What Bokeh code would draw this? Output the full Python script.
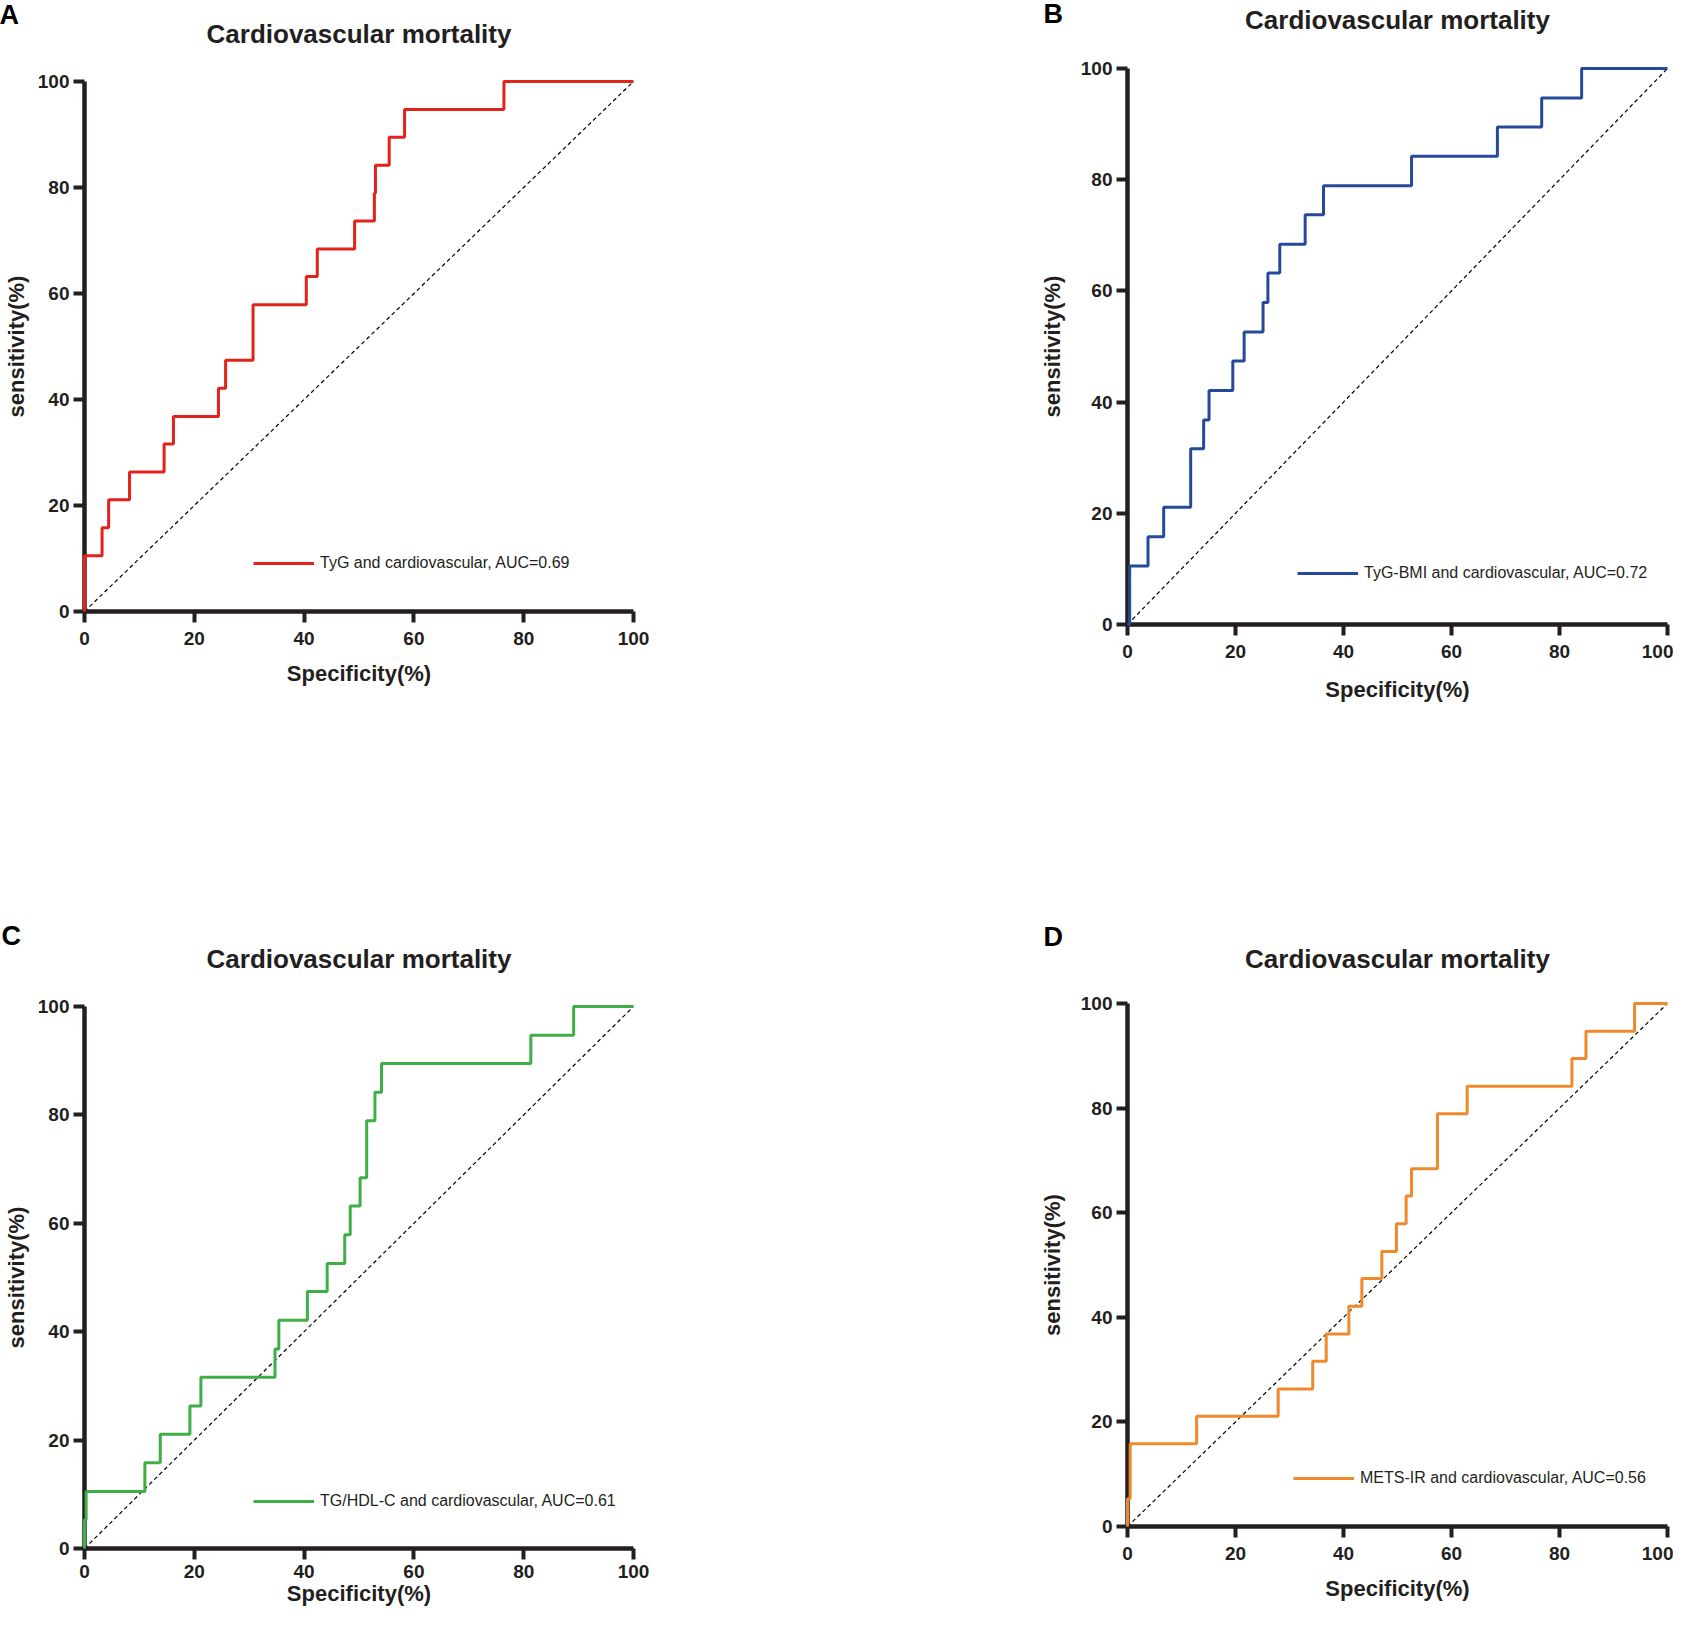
from bokeh.plotting import figure
from bokeh.models import Range1d, Legend, LegendItem, FixedTicker, Title
from bokeh.layouts import column, row
from bokeh.embed import file_html
from bokeh.resources import INLINE

# ---------------- data (ROC corner points: specificity %, sensitivity %) ----------------
ticks = [0, 20, 40, 60, 80, 100]
title_text = "Cardiovascular mortality"
x_label = "Specificity(%)"
y_label = "sensitivity(%)"

a_spec = [0, 0, 3.2, 4.4, 8.2, 14.5, 16.2, 24.4, 25.7, 30.7, 40.4, 42.4, 49.2, 52.8, 53.0, 55.5, 58.3, 76.4, 100]
a_sens = [0, 10.5, 15.8, 21.1, 26.3, 31.6, 36.8, 42.1, 47.4, 57.9, 63.2, 68.4, 73.7, 78.9, 84.2, 89.5, 94.7, 100, 100]
a_name = "TyG and cardiovascular, AUC=0.69"

b_spec = [0, 0.4, 3.8, 6.7, 11.7, 14.1, 15.1, 19.5, 21.6, 25.1, 26.0, 28.2, 32.9, 36.3, 52.6, 68.5, 76.7, 84.1, 100]
b_sens = [0, 10.5, 15.8, 21.1, 31.6, 36.8, 42.1, 47.4, 52.6, 57.9, 63.2, 68.4, 73.7, 78.9, 84.2, 89.5, 94.7, 100, 100]
b_name = "TyG-BMI and cardiovascular, AUC=0.72"

c_spec = [0, 0, 0.3, 11.0, 13.8, 19.2, 21.2, 34.7, 35.4, 40.6, 44.2, 47.4, 48.4, 50.2, 51.4, 52.9, 54.1, 81.3, 89.1, 100]
c_sens = [0, 5.3, 10.5, 15.8, 21.1, 26.3, 31.6, 36.8, 42.1, 47.4, 52.6, 57.9, 63.2, 68.4, 78.9, 84.2, 89.5, 94.7, 100, 100]
c_name = "TG/HDL-C and cardiovascular, AUC=0.61"

d_spec = [0, 0, 0.5, 12.8, 27.9, 34.3, 36.8, 41.0, 43.4, 47.1, 49.8, 51.6, 52.6, 57.4, 62.9, 82.3, 84.9, 93.9, 100]
d_sens = [0, 5.3, 15.8, 21.1, 26.3, 31.6, 36.8, 42.1, 47.4, 52.6, 57.9, 63.2, 68.4, 78.9, 84.2, 89.5, 94.7, 100, 100]
d_name = "METS-IR and cardiovascular, AUC=0.56"

ref_line = [0, 100]

FONT = "Liberation Sans"
INK = "#231F20"


def panel(letter, spec, sens, name, color, W, H, bl, bt, fw, fh,
          spacer_standoff, title_standoff, letter_standoff, letter_offset,
          yl_standoff, xl_standoff, xlab_standoff, legend_xy):
    p = figure(width=W, height=H, output_backend="svg", toolbar_location=None,
               x_range=Range1d(0, 100), y_range=Range1d(0, 100),
               min_border_left=bl, min_border_top=bt,
               min_border_right=W - bl - fw, min_border_bottom=H - bt - fh)
    p.outline_line_color = None
    p.xgrid.grid_line_color = None
    p.ygrid.grid_line_color = None
    p.background_fill_color = "white"
    p.border_fill_color = "white"

    xax = p.below[0]
    yax = p.left[0]

    for ax in (xax, yax):
        ax.ticker = FixedTicker(ticks=ticks)
        ax.axis_line_width = 4.5
        ax.axis_line_color = INK
        ax.major_tick_line_width = 4
        ax.major_tick_line_color = INK
        ax.major_tick_in = 0
        ax.major_tick_out = 11
        ax.minor_tick_line_color = None
        ax.major_label_text_font = FONT
        ax.major_label_text_font_size = "19px"
        ax.major_label_text_font_style = "bold"
        ax.major_label_text_color = INK
        ax.axis_label_text_font = FONT
        ax.axis_label_text_font_size = "22px"
        ax.axis_label_text_font_style = "bold"
        ax.axis_label_text_color = INK
    xax.axis_label = x_label
    yax.axis_label = y_label
    xax.major_label_standoff = xl_standoff
    yax.major_label_standoff = 4
    xax.axis_label_standoff = xlab_standoff
    yax.axis_label_standoff = yl_standoff

    # blank spacer band directly above the frame (lifts the titles)
    p.add_layout(Title(text=" ", align="center", text_font=FONT, text_font_size="26px",
                       standoff=spacer_standoff), "above")
    # main title
    p.add_layout(Title(text=title_text, align="center", vertical_align="bottom",
                       text_font=FONT, text_font_size="26px", text_font_style="bold",
                       text_color=INK, standoff=title_standoff), "above")
    # panel letter
    p.add_layout(Title(text=letter, align="left", vertical_align="bottom",
                       offset=letter_offset, standoff=letter_standoff,
                       text_font=FONT, text_font_size="27px", text_font_style="bold",
                       text_color="black"), "above")

    # chance line
    p.line(ref_line, ref_line, line_color="black", line_width=1.2, line_dash="4 3")

    # ROC curve
    r = p.step(spec, sens, mode="after", line_color=color, line_width=3, level="overlay")

    legend = Legend(items=[LegendItem(label=name, renderers=[r])],
                    location=legend_xy, padding=0, margin=0, spacing=0,
                    glyph_width=61, glyph_height=20, label_height=20,
                    label_standoff=6, border_line_color=None,
                    background_fill_alpha=0,
                    label_text_font=FONT, label_text_font_size="16px",
                    label_text_color=INK)
    p.add_layout(legend, "center")
    return p


pA = panel("A", a_spec, a_sens, a_name, "#E2231B", 840, 900, 84, 81, 549, 530,
           7, -13, -12, -85, 6, 9, 13, (169, 38))
pC = panel("C", c_spec, c_sens, c_name, "#3FAE47", 840, 711, 84, 106, 549, 542,
           9, -17, 0, -83, 6, 5, 0, (169, 37))
pB = panel("B", b_spec, b_sens, b_name, "#26499A", 833, 900, 283, 68, 549, 556,
           15, -26, -27, -84, 13, 9, 16, (170, 41))
pD = panel("D", d_spec, d_sens, d_name, "#EF8A2C", 833, 711, 287, 103, 540, 523,
           8, -20, 0, -84, 13, 9, 13, (166, 38))

layout = row(column(pA, pC), column(pB, pD))
open("out.html", "w").write(file_html(layout, INLINE))
